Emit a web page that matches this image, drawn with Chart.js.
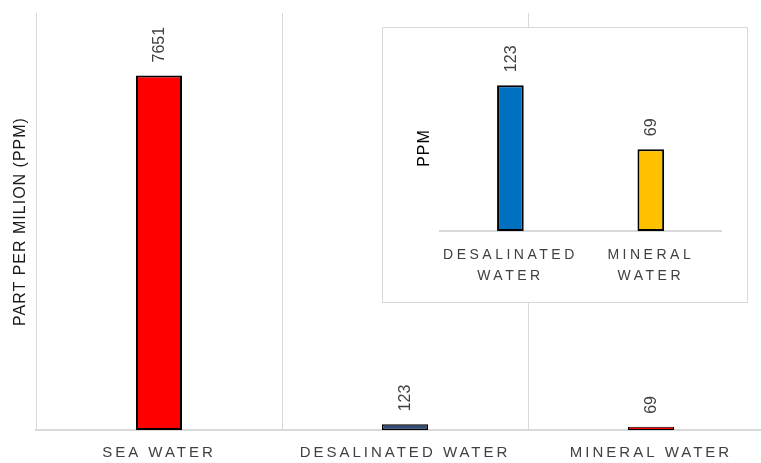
<!DOCTYPE html>
<html>
<head>
<meta charset="utf-8">
<script src="https://cdn.jsdelivr.net/npm/chart.js@4.4.0/dist/chart.umd.min.js"></script>
<style>
  html, body { margin: 0; padding: 0; background: #fff; overflow: hidden; }
  #wrap { position: relative; width: 761px; height: 463px; overflow: hidden; }
  #main { position: absolute; left: 0; top: 0; }
  #insetBox { position: absolute; left: 382px; top: 27px; width: 364px; height: 274px;
              border: 1px solid #d9d9d9; background: #fff; }
  #inset { display: block; }
</style>
</head>
<body>
<div id="wrap">
  <canvas id="main" width="775" height="463"></canvas>
  <div id="insetBox"><canvas id="inset" width="364" height="274"></canvas></div>
</div>
<script>
// main chart data
var categories = ["SEA WATER", "DESALINATED WATER", "MINERAL WATER"];
var ppmValues = [7651, 123, 69];
var barColors = ["#FF0000", "#2E4A7A", "#FF0000"];
var mainMax = 9000;

// inset (zoomed) chart data
var insetCategories = [["DESALINATED", "WATER"], ["MINERAL", "WATER"]];
var insetValues = [123, 69];
var insetColors = ["#0070C0", "#FFC000"];
var insetMax = 140;

var FONT = "'Liberation Sans', Arial, sans-serif";

// rotated value labels above the bars + letter spacing for titles / ticks
function textPlugin(titleSpacing, tickSpacing) {
  return {
    id: "textPlugin",
    beforeDraw: function (chart) {
      chart.ctx.letterSpacing = titleSpacing;
    },
    afterDatasetsDraw: function (chart) {
      var ctx = chart.ctx;
      var meta = chart.getDatasetMeta(0);
      var values = chart.data.datasets[0].data;
      ctx.save();
      ctx.letterSpacing = "0px";
      ctx.font = "16px " + FONT;
      ctx.fillStyle = "#404040";
      ctx.textAlign = "left";
      ctx.textBaseline = "middle";
      meta.data.forEach(function (bar, i) {
        ctx.save();
        ctx.translate(bar.x + 1, bar.y - 13);
        ctx.rotate(-Math.PI / 2);
        ctx.fillText(String(values[i]), 0, 0);
        ctx.restore();
      });
      ctx.restore();
      // x tick labels are drawn after this (ticks.z = 1)
      ctx.letterSpacing = tickSpacing;
    },
    afterDraw: function (chart) {
      chart.ctx.letterSpacing = "0px";
    },
  };
}

// fixed height for the category axis (fit() reserves the tick padding twice)
function axisHeight(h) {
  return function (scale) {
    scale.height = h;
  };
}

var mainChart = new Chart(document.getElementById("main").getContext("2d"), {
  type: "bar",
  data: {
    labels: categories,
    datasets: [
      {
        data: ppmValues,
        backgroundColor: barColors,
        borderColor: "#000",
        borderWidth: [2, 1.5, 1],
        borderSkipped: false,
        categoryPercentage: 1,
        barPercentage: 0.187,
      },
    ],
  },
  options: {
    responsive: false,
    animation: false,
    layout: { padding: { left: 8, right: 1, top: 13, bottom: 1 } },
    plugins: { legend: { display: false }, tooltip: { enabled: false } },
    scales: {
      x: {
        afterFit: axisHeight(32),
        grid: { color: "#d9d9d9", lineWidth: 1, drawTicks: false, offset: true },
        border: { color: "#d9d9d9", width: 2 },
        ticks: { z: 1, padding: 14, color: "#404040", font: { family: FONT, size: 15 }, maxRotation: 0 },
      },
      y: {
        min: 0,
        max: mainMax,
        ticks: { display: false },
        grid: { display: false, drawTicks: false },
        border: { display: false },
        title: {
          display: true,
          text: "PART PER MILION (PPM)",
          color: "#1a1a1a",
          font: { family: FONT, size: 16 },
          padding: { top: 2.5, bottom: 6.3 },
        },
      },
    },
  },
  plugins: [textPlugin("1px", "3px")],
});

var insetChart = new Chart(document.getElementById("inset").getContext("2d"), {
  type: "bar",
  data: {
    labels: insetCategories,
    datasets: [
      {
        data: insetValues,
        backgroundColor: insetColors,
        borderColor: "#000",
        borderWidth: 2,
        borderSkipped: false,
        categoryPercentage: 1,
        barPercentage: 0.19,
      },
    ],
  },
  options: {
    responsive: false,
    animation: false,
    layout: { padding: { left: 30, right: 26, top: 37, bottom: 15 } },
    plugins: { legend: { display: false }, tooltip: { enabled: false } },
    scales: {
      x: {
        afterFit: axisHeight(56),
        grid: { display: false, drawTicks: false },
        border: { color: "#d9d9d9", width: 2 },
        ticks: {
          z: 1,
          padding: 14,
          color: "#404040",
          font: { family: FONT, size: 14, lineHeight: 1.5 },
          maxRotation: 0,
        },
      },
      y: {
        min: 0,
        max: insetMax,
        ticks: { display: false },
        grid: { display: false, drawTicks: false },
        border: { display: false },
        title: {
          display: true,
          text: "PPM",
          color: "#000",
          font: { family: FONT, size: 16 },
          padding: { top: 2, bottom: 6 },
        },
      },
    },
  },
  plugins: [textPlugin("1px", "3.5px")],
});
</script>
</body>
</html>
